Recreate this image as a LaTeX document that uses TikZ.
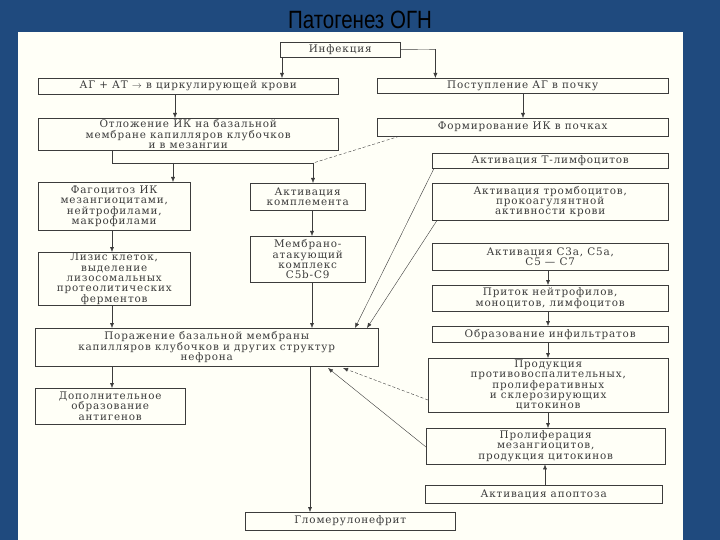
\documentclass[tikz,border=0pt]{standalone}
\usepackage{fontspec}
\setmainfont{DejaVu Serif}[LetterSpace=8]
\newfontfamily\titlefont{Liberation Sans}
\usetikzlibrary{arrows.meta}
\definecolor{slideblue}{RGB}{31,74,126}
\definecolor{ink}{RGB}{60,60,60}
\tikzset{
  box/.style={draw=ink,thin,align=center,inner sep=1pt,text=ink,font=\fontsize{10.4}{10.3}\selectfont,anchor=north west},
  arr/.style={-{Latex[length=5pt,width=4pt]},draw=ink,thin},
  ln/.style={draw=ink,thin}
}
\begin{document}
\begin{tikzpicture}[x=1pt,y=-1pt]
\useasboundingbox (0,0) rectangle (720,540);
\fill[slideblue] (0,0) rectangle (720,540);
\fill[white!97!yellow] (18,32) rectangle (683,540);
\node[font=\titlefont\fontsize{25}{27}\selectfont,xscale=0.82,text=black] (title) at (360,20) {Патогенез ОГН};
% boxes
\node[box,minimum width=120,minimum height=15] (inf) at (280,42) {Инфекция};
\node[box,minimum width=300,minimum height=16] (agat) at (38,78) {АГ + АТ $\rightarrow$ в циркулирующей крови};
\node[box,minimum width=291,minimum height=15] (post) at (377,78) {Поступление АГ в почку};
\node[box,minimum width=300,minimum height=32] (otl) at (38,118) {Отложение ИК на базальной\\мембране капилляров клубочков\\и в мезангии};
\node[box,minimum width=291,minimum height=18] (form) at (377,118) {Формирование ИК в почках};
\node[box,minimum width=236,minimum height=15] (tlym) at (432,153) {Активация Т-лимфоцитов};
\node[box,minimum width=236,minimum height=37] (tromb) at (432,183) {Активация тромбоцитов,\\прокоагулянтной\\активности крови};
\node[box,minimum width=152,minimum height=48] (fag) at (38,182) {Фагоцитоз ИК\\мезангиоцитами,\\нейтрофилами,\\макрофилами};
\node[box,minimum width=115,minimum height=27] (kompl) at (250,183) {Активация\\комплемента};
\node[box,minimum width=115,minimum height=46] (memb) at (250,236) {Мембрано-\\атакующий\\комплекс\\C5b-C9};
\node[box,minimum width=152,minimum height=53] (lizis) at (38,252) {Лизис клеток,\\выделение\\лизосомальных\\протеолитических\\ферментов};
\node[box,minimum width=236,minimum height=27] (c3a) at (432,243) {Активация C3a, C5a,\\C5 — C7};
\node[box,minimum width=236,minimum height=26] (pritok) at (432,285) {Приток нейтрофилов,\\моноцитов, лимфоцитов};
\node[box,minimum width=236,minimum height=16] (infil) at (432,326) {Образование инфильтратов};
\node[box,minimum width=343,minimum height=38] (poraz) at (35,328) {Поражение базальной мембраны\\капилляров клубочков и других структур\\нефрона};
\node[box,minimum width=240,minimum height=54] (prod) at (428,358) {Продукция\\противовоспалительных,\\пролиферативных\\и склерозирующих\\цитокинов};
\node[box,minimum width=150,minimum height=36] (dop) at (35,388) {Дополнительное\\образование\\антигенов};
\node[box,minimum width=239,minimum height=36] (prolif) at (426,428) {Пролиферация\\мезангиоцитов,\\продукция цитокинов};
\node[box,minimum width=237,minimum height=18] (apopt) at (425,485) {Активация апоптоза};
\node[box,minimum width=210,minimum height=18] (glom) at (245,512) {Гломерулонефрит};
% connectors
\draw[arr] (inf.west |- inf.south) ++(2,0) coordinate (i1) -- (i1 |- agat.north);
\draw[arr] (inf.east |- inf.south) ++(35,-8) coordinate (i2) -- (i2 |- post.north);
\draw[ln] (inf.east) -- (i2);
\draw[arr] (175,0 |- agat.south) coordinate (a1) -- (a1 |- otl.north);
\draw[arr] (523,0 |- post.south) coordinate (p1) -- (p1 |- form.north);
\coordinate (o1) at (112,163);
\coordinate (o2) at (313,163);
\draw[ln] (o1 |- otl.south) -- (o1) -- (o2);
\draw[arr] (173,163) coordinate (o3) -- (o3 |- fag.north);
\draw[arr] (o2) -- (o2 |- kompl.north);
\draw[ln,densely dashed] (form.south west) ++(22,0) -- (o2);
\draw[arr] (112,0 |- fag.south) coordinate (f1) -- (f1 |- lizis.north);
\draw[arr] (112,0 |- lizis.south) coordinate (l1) -- (l1 |- poraz.north);
\draw[arr] (312,0 |- kompl.south) coordinate (k1) -- (k1 |- memb.north);
\draw[arr] (312,0 |- memb.south) coordinate (m1) -- (m1 |- poraz.north);
\draw[arr] (112,0 |- poraz.south) coordinate (r1) -- (r1 |- dop.north);
\draw[arr] (310,0 |- poraz.south) coordinate (r2) -- (r2 |- glom.north);
\draw[arr] (tlym.south west) ++(2,0) -- (355,328);
\draw[arr] (tromb.south west) ++(5,0) -- (367,328);
\draw[arr,densely dashed] (prod.west |- 0,400) -- (343,368);
\draw[arr] (prolif.west |- 0,447) -- (328,368);
\draw[arr] (548,0 |- c3a.south) coordinate (c1) -- (c1 |- pritok.north);
\draw[arr] (548,0 |- pritok.south) coordinate (c2) -- (c2 |- infil.north);
\draw[arr] (548,0 |- infil.south) coordinate (c3) -- (c3 |- prod.north);
\draw[arr] (548,0 |- prod.south) coordinate (c4) -- (c4 |- prolif.north);
\draw[arr] (545,0 |- apopt.north) coordinate (c5) -- (c5 |- prolif.south);
\end{tikzpicture}
\end{document}
